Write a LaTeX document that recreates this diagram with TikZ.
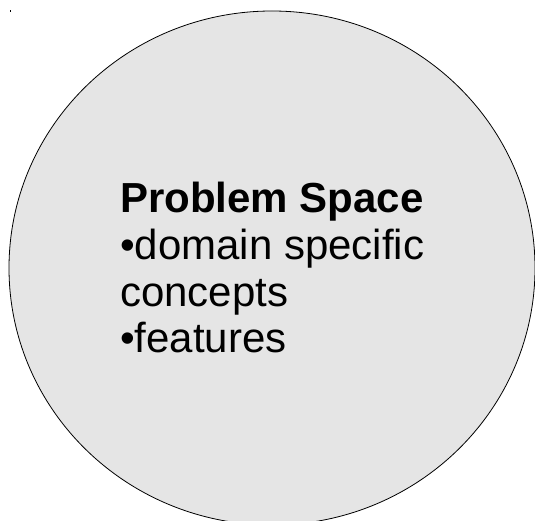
\documentclass[tikz,border=0pt]{standalone}
\usepackage{fontspec}
\setmainfont{Liberation Sans}
\tikzset{
  space/.style={draw=black, line width=0.8pt, fill=spacegray},
  bodytext/.style={anchor=base west, inner sep=0pt, font=\fontsize{42}{46}\selectfont},
}
\definecolor{spacegray}{HTML}{E5E5E5}
\begin{document}
\begin{tikzpicture}[x=1pt, y=-1pt]
  \useasboundingbox (0,0) rectangle (535,521);
  \clip (0,0) rectangle (535,521);
  % small mark in the upper left corner
  \fill (10,10.5) rectangle (11.2,11.7);
  % the problem-space region
  \draw[space] (272,268) ellipse [x radius=263, y radius=257];
  % heading and bullet list
  \node[bodytext] (head) at (120,213) {\textbf{Problem Space}};
  \node[bodytext] (itemA) at (120,259.5) {•domain specific};
  \node[bodytext] (itemAcont) at (120,306) {concepts};
  \node[bodytext] (itemB) at (120,352.5) {•features};
\end{tikzpicture}
\end{document}
